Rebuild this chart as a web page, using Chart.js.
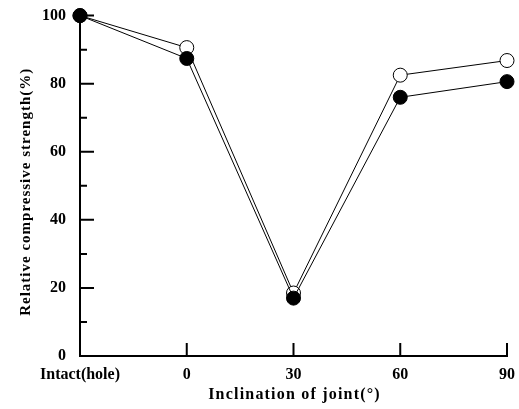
<!DOCTYPE html>
<html>
<head>
<meta charset="utf-8">
<script src="https://cdn.jsdelivr.net/npm/chart.js@4"></script>
<style>
  html, body { margin: 0; padding: 0; background: #fff; }
  #wrap { width: 519px; height: 409px; }
</style>
</head>
<body>
<div id="wrap"><canvas id="c" width="519" height="409"></canvas></div>
<script>
const labels = ['Intact(hole)', '0', '30', '60', '90']
const openPts = [100, 90.6, 18.5, 82.5, 86.8]
const filledPts = [100, 87.4, 17, 76, 80.6]
const yMajor = [0, 20, 40, 60, 80, 100]
const yMinor = [10, 30, 50, 70, 90]
const xTitle = 'Inclination of joint(°)'
const yTitle = 'Relative compressive strength(%)'

const serif = 'Liberation Serif, "Times New Roman", serif'

// ticks point inward, and the titles are letter-spaced, so both are drawn here
const axisExtras = {
    id: 'axisExtras',
    afterDatasetsDraw(chart) {
        const ctx = chart.ctx
        const x = chart.scales.x, y = chart.scales.y
        ctx.save()
        ctx.strokeStyle = '#000'
        ctx.lineWidth = 2
        ctx.beginPath()
        yMajor.forEach(v => {
            const py = y.getPixelForValue(v)
            ctx.moveTo(x.left, py); ctx.lineTo(x.left + 14, py)
        })
        yMinor.forEach(v => {
            const py = y.getPixelForValue(v)
            ctx.moveTo(x.left, py); ctx.lineTo(x.left + 7, py)
        })
        labels.forEach((l, i) => {
            if (i === 0) return
            const px = x.getPixelForValue(i)
            ctx.moveTo(px, y.bottom); ctx.lineTo(px, y.bottom - 13)
        })
        ctx.stroke()

        ctx.fillStyle = '#000'
        ctx.textAlign = 'center'
        ctx.textBaseline = 'middle'
        ctx.letterSpacing = '1.2px'
        ctx.font = 'bold 16px ' + serif
        ctx.fillText(xTitle, (x.left + x.right) / 2 + 1, 395)

        ctx.letterSpacing = '1px'
        ctx.font = 'bold 15px ' + serif
        ctx.translate(26, (y.top + y.bottom) / 2 + 6)
        ctx.rotate(-Math.PI / 2)
        ctx.fillText(yTitle, 0, 0)
        ctx.restore()
    }
}

new Chart(document.getElementById('c'), {
    type: 'line',
    data: {
        labels: labels,
        datasets: [{
            data: filledPts,
            label: 'filled',
            borderColor: '#000',
            borderWidth: 1,
            backgroundColor: '#000',
            pointBackgroundColor: '#000',
            pointBorderColor: '#000',
            pointRadius: 7,
            tension: 0
        },
        {
            data: openPts,
            label: 'open',
            borderColor: '#000',
            borderWidth: 1,
            pointBackgroundColor: '#fff',
            pointBorderColor: '#000',
            pointBorderWidth: 1,
            pointRadius: 7,
            tension: 0
        }]
    },
    options: {
        responsive: false,
        animation: false,
        clip: false,
        layout: { padding: { top: 15, right: 12, left: 0, bottom: 0 } },
        plugins: {
            legend: { display: false },
            tooltip: { enabled: false }
        },
        scales: {
            x: {
                offset: false,
                grid: { display: false },
                border: { display: true, color: '#000', width: 2 },
                ticks: {
                    color: '#000',
                    padding: 1,
                    maxRotation: 0,
                    autoSkip: false,
                    font: { family: serif, size: 16, weight: 'bold' }
                },
                afterFit(s) { s.height = 53 }
            },
            y: {
                min: 0,
                max: 100,
                grid: { display: false },
                border: { display: true, color: '#000', width: 2 },
                ticks: {
                    stepSize: 20,
                    color: '#000',
                    padding: 6,
                    font: { family: serif, size: 16, weight: 'bold' }
                },
                afterFit(s) { s.width = 80 }
            }
        }
    },
    plugins: [axisExtras]
})
</script>
</body>
</html>
